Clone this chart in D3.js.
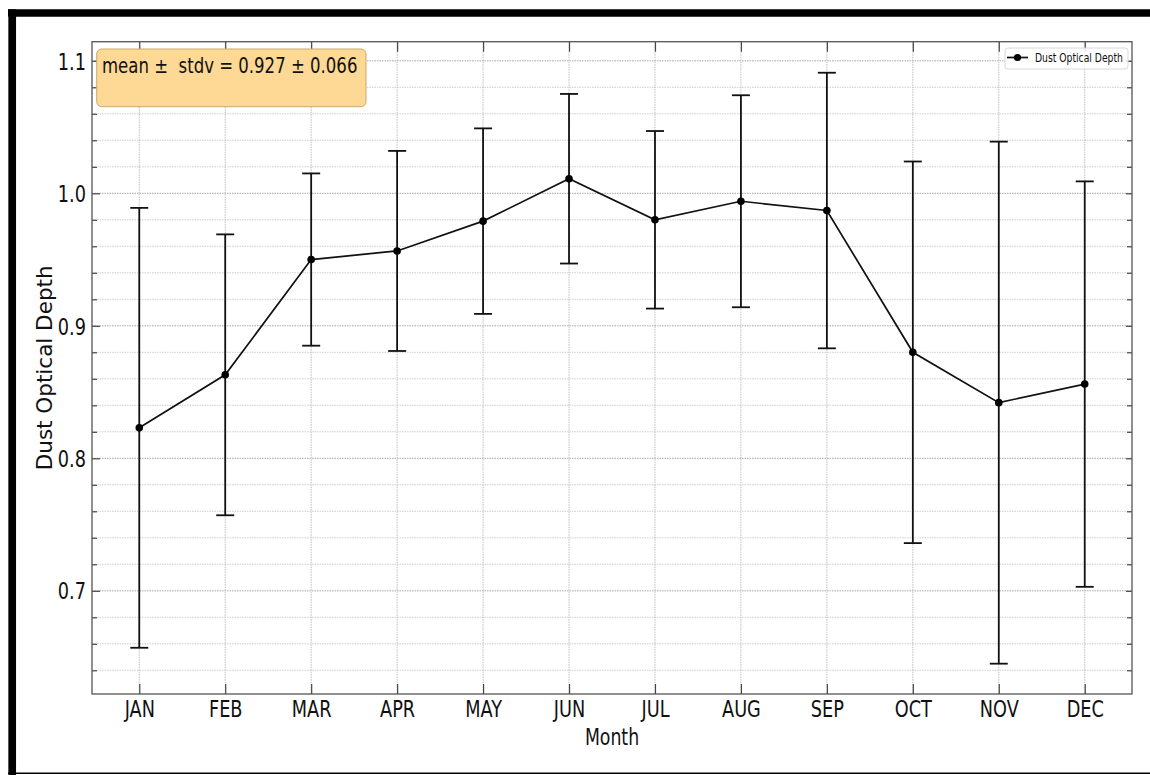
<!DOCTYPE html>
<html>
<head>
<meta charset="utf-8">
<script src="https://cdn.jsdelivr.net/npm/d3@7"></script>
<style>
  html, body { margin: 0; padding: 0; background: #fff; }
  svg { display: block; }
  text { font-family: "DejaVu Sans", sans-serif; fill: #111; }
</style>
</head>
<body>
<svg id="chart" width="1150" height="775"></svg>
<script>
// Monthly dust optical depth: mean and standard deviation
const months = ["JAN", "FEB", "MAR", "APR", "MAY", "JUN", "JUL", "AUG", "SEP", "OCT", "NOV", "DEC"];
const dodMean = [0.823, 0.863, 0.950, 0.9565, 0.979, 1.011, 0.980, 0.994, 0.987, 0.880, 0.842, 0.856];
const dodStd  = [0.166, 0.106, 0.065, 0.0755, 0.070, 0.064, 0.067, 0.080, 0.104, 0.144, 0.197, 0.153];
const yMajorTicks = [0.7, 0.8, 0.9, 1.0, 1.1];
const yMinorTicks = [0.64, 0.66, 0.68, 0.72, 0.74, 0.76, 0.78, 0.82, 0.84, 0.86, 0.88,
                     0.92, 0.94, 0.96, 0.98, 1.02, 1.04, 1.06, 1.08];
const summaryMean = "0.927";
const summaryStd = "0.066";
const seriesName = "Dust Optical Depth";

const svg = d3.select("#chart");
const pLeft = 92, pRight = 1132, pTop = 41.7, pBottom = 694;
const sx = 0.77; // narrow glyph width used for the labels

const x = d3.scaleLinear().domain([-0.55, 11.55]).range([pLeft, pRight]);
const y = d3.scaleLinear().domain([0.62211, 1.11442]).range([pBottom, pTop]);

// outer frame
svg.append("line").attr("x1", 8).attr("x2", 1150).attr("y1", 13).attr("y2", 13)
  .attr("stroke", "#000").attr("stroke-width", 7.5);
svg.append("line").attr("x1", 12.2).attr("x2", 12.2).attr("y1", 9.3).attr("y2", 775)
  .attr("stroke", "#000").attr("stroke-width", 7.7);
svg.append("line").attr("x1", 8).attr("x2", 1150).attr("y1", 773.3).attr("y2", 773.3)
  .attr("stroke", "#000").attr("stroke-width", 1.6);

// grid
const grid = svg.append("g");
grid.selectAll(".gminor").data(yMinorTicks).join("line")
  .attr("x1", pLeft).attr("x2", pRight)
  .attr("y1", d => y(d)).attr("y2", d => y(d))
  .attr("stroke", "#cfcfcf").attr("stroke-width", 1).attr("stroke-dasharray", "1.5,1");
grid.selectAll(".gmajor").data(yMajorTicks).join("line")
  .attr("x1", pLeft).attr("x2", pRight)
  .attr("y1", d => y(d)).attr("y2", d => y(d))
  .attr("stroke", "#a8a8a8").attr("stroke-width", 1).attr("stroke-dasharray", "1.5,1");
grid.selectAll(".gx").data(d3.range(months.length)).join("line")
  .attr("x1", d => x(d)).attr("x2", d => x(d))
  .attr("y1", pTop).attr("y2", pBottom)
  .attr("stroke", "#bdbdbd").attr("stroke-width", 1).attr("stroke-dasharray", "1.5,1");

// axes with inward ticks
function styleAxis(g) {
  g.select(".domain").remove();
  g.selectAll(".tick line").attr("stroke", "#444").attr("stroke-width", 1.2);
}
const axBottom = svg.append("g").attr("transform", `translate(0,${pBottom})`)
  .call(d3.axisBottom(x).tickValues(d3.range(12)).tickFormat(i => months[i])
    .tickSizeInner(-10).tickSizeOuter(0).tickPadding(6))
  .call(styleAxis);
axBottom.selectAll(".tick text")
  .attr("y", 0).attr("dy", null)
  .attr("transform", `translate(0,${6 + 16.5}) scale(${sx},1)`)
  .style("font-size", "23px").attr("fill", "#111");

svg.append("g").attr("transform", `translate(0,${pTop})`)
  .call(d3.axisTop(x).tickValues(d3.range(12)).tickFormat("").tickSizeInner(-10).tickSizeOuter(0))
  .call(styleAxis);

const axLeft = svg.append("g").attr("transform", `translate(${pLeft},0)`)
  .call(d3.axisLeft(y).tickValues(yMajorTicks).tickFormat(d3.format(".1f"))
    .tickSizeInner(-8).tickSizeOuter(0))
  .call(styleAxis);
axLeft.selectAll(".tick text")
  .attr("x", 0).attr("dy", null)
  .attr("transform", `translate(-6,8.2) scale(${sx},1)`)
  .style("font-size", "23px").attr("fill", "#111");
svg.append("g").attr("transform", `translate(${pLeft},0)`)
  .call(d3.axisLeft(y).tickValues(yMinorTicks).tickFormat("").tickSizeInner(-5).tickSizeOuter(0))
  .call(styleAxis);

svg.append("g").attr("transform", `translate(${pRight},0)`)
  .call(d3.axisRight(y).tickValues(yMajorTicks).tickFormat("").tickSizeInner(-6).tickSizeOuter(0))
  .call(styleAxis);
svg.append("g").attr("transform", `translate(${pRight},0)`)
  .call(d3.axisRight(y).tickValues(yMinorTicks).tickFormat("").tickSizeInner(-5).tickSizeOuter(0))
  .call(styleAxis);

// spines
svg.append("rect").attr("x", pLeft).attr("y", pTop)
  .attr("width", pRight - pLeft).attr("height", pBottom - pTop)
  .attr("fill", "none").attr("stroke", "#555").attr("stroke-width", 1.3);

// error bars
const eb = svg.append("g").attr("stroke", "#111").attr("stroke-width", 1.8);
months.forEach((m, i) => {
  const cx = x(i), y0 = y(dodMean[i] - dodStd[i]), y1 = y(dodMean[i] + dodStd[i]);
  eb.append("line").attr("x1", cx).attr("x2", cx).attr("y1", y0).attr("y2", y1);
  eb.append("line").attr("x1", cx - 9).attr("x2", cx + 9).attr("y1", y0).attr("y2", y0);
  eb.append("line").attr("x1", cx - 9).attr("x2", cx + 9).attr("y1", y1).attr("y2", y1);
});

// mean line and markers
const line = d3.line().x((d, i) => x(i)).y(d => y(d));
svg.append("path").datum(dodMean).attr("d", line)
  .attr("fill", "none").attr("stroke", "#111").attr("stroke-width", 1.7);
svg.selectAll(".pt").data(dodMean).join("circle")
  .attr("cx", (d, i) => x(i)).attr("cy", d => y(d)).attr("r", 3.8).attr("fill", "#000");

// axis titles
svg.append("text")
  .attr("transform", `translate(${(pLeft + pRight) / 2},745) scale(${sx},1)`)
  .attr("text-anchor", "middle").style("font-size", "22.5px").text("Month");
svg.append("text")
  .attr("transform", `translate(52,${(pTop + pBottom) / 2}) rotate(-90)`)
  .attr("text-anchor", "middle").style("font-size", "21.5px").text(seriesName);

// summary box
svg.append("rect").attr("x", 96.7).attr("y", 49).attr("width", 269.3).attr("height", 57.7)
  .attr("rx", 5).attr("fill", "#fdd995").attr("stroke", "#c9aa6b").attr("stroke-width", 1);
svg.append("text")
  .attr("transform", `translate(102,72.7) scale(${sx},1)`)
  .style("font-size", "21.5px").style("white-space", "pre")
  .attr("xml:space", "preserve")
  .text(`mean \u00b1  stdv = ${summaryMean} \u00b1 ${summaryStd}`);

// legend
const lg = svg.append("g");
lg.append("rect").attr("x", 1005).attr("y", 48).attr("width", 123).attr("height", 21)
  .attr("rx", 3).attr("fill", "rgba(255,255,255,0.85)").attr("stroke", "#d8d8d8");
lg.append("line").attr("x1", 1007).attr("x2", 1028).attr("y1", 57.5).attr("y2", 57.5)
  .attr("stroke", "#111").attr("stroke-width", 1.7);
lg.append("circle").attr("cx", 1017.5).attr("cy", 57.5).attr("r", 3.6).attr("fill", "#000");
lg.append("text").attr("transform", `translate(1035,61.7) scale(${sx},1)`)
  .style("font-size", "12px").text(seriesName);
</script>
</body>
</html>
